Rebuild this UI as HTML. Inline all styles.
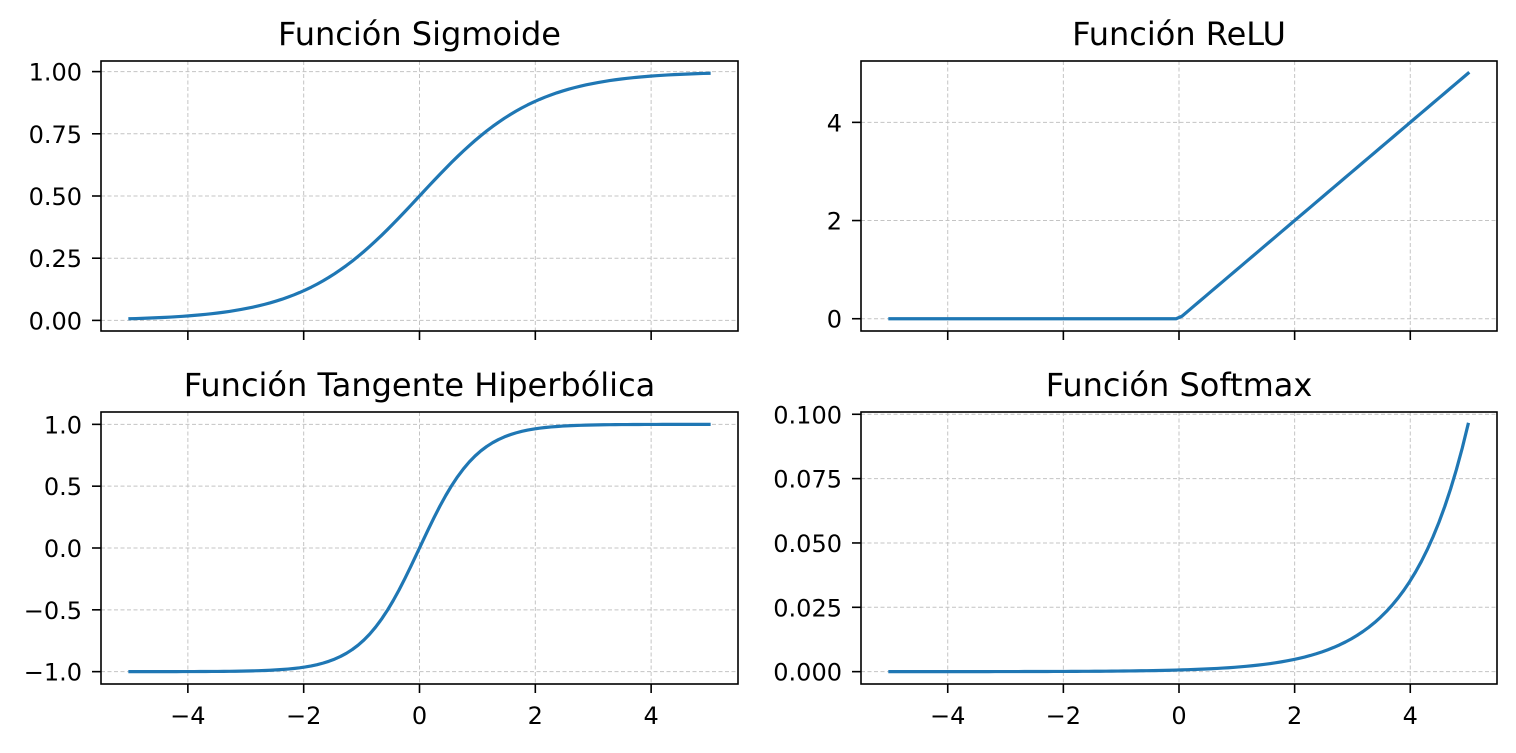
<!DOCTYPE html>
<html><head><meta charset="utf-8">
<style>
html,body{margin:0;padding:0;background:#fff;}
svg text{font-family:"DejaVu Sans","Liberation Sans",sans-serif;fill:#000;}
</style></head>
<body>
<svg id="fig" width="1516" height="748" xmlns="http://www.w3.org/2000/svg"></svg>
<script>
const N = 100;
const xs = [];
for (let i = 0; i < N; i++) xs.push(-5 + 10 * i / (N - 1));
const sigmoidVals = xs.map(x => 1 / (1 + Math.exp(-x)));
const reluVals = xs.map(x => Math.max(0, x));
const tanhVals = xs.map(x => Math.tanh(x));
const expSum = xs.reduce((s, x) => s + Math.exp(x), 0);
const softmaxVals = xs.map(x => Math.exp(x) / expSum);

const xTicks = [-4, -2, 0, 2, 4];
const sigTicks = [0, 0.25, 0.5, 0.75, 1.0];
const sigLabels = ["0.00", "0.25", "0.50", "0.75", "1.00"];
const reluTicks = [0, 2, 4];
const reluLabels = ["0", "2", "4"];
const tanhTicks = [-1, -0.5, 0, 0.5, 1];
const tanhLabels = ["\u22121.0", "\u22120.5", "0.0", "0.5", "1.0"];
const smTicks = [0, 0.025, 0.05, 0.075, 0.1];
const smLabels = ["0.000", "0.025", "0.050", "0.075", "0.100"];

const NS = "http://www.w3.org/2000/svg";
const svg = document.getElementById('fig');
function mk(tag, attrs, parent) {
  const e = document.createElementNS(NS, tag);
  for (const k in attrs) e.setAttribute(k, attrs[k]);
  (parent || svg).appendChild(e);
  return e;
}

function panel(name, title, box, ys, ymin, ymax, yTicks, yLabels, showX) {
  const g = mk('g', {});
  
  
  const [L, T, R, B] = box;
  const xmin = -5.5, xmax = 5.5;
  const sx = v => L + (v - xmin) / (xmax - xmin) * (R - L);
  const sy = v => B - (v - ymin) / (ymax - ymin) * (B - T);
  xTicks.forEach(t => {
    const l = mk('line', {x1: sx(t), x2: sx(t), y1: T, y2: B, stroke: '#c4c4c4', 'stroke-width': 1, 'stroke-dasharray': '4,2.5'}, g);
    
    
  });
  yTicks.forEach(t => {
    const l = mk('line', {x1: L, x2: R, y1: sy(t), y2: sy(t), stroke: '#c4c4c4', 'stroke-width': 1, 'stroke-dasharray': '4,2.5'}, g);
    
    
  });
  const d = xs.map((x, i) => (i ? 'L' : 'M') + sx(x).toFixed(2) + ',' + sy(ys[i]).toFixed(2)).join('');
  const p = mk('path', {d: d, fill: 'none', stroke: '#1f77b4', 'stroke-width': 3.2, 'stroke-linejoin': 'round', 'stroke-linecap': 'square'}, g);
  
  
  const fr = mk('rect', {x: L, y: T, width: R - L, height: B - T, fill: 'none', stroke: '#000', 'stroke-width': 1.6}, g);
  
  
  xTicks.forEach(t => {
    const l = mk('line', {x1: sx(t), x2: sx(t), y1: B, y2: B + 9, stroke: '#000', 'stroke-width': 1.6}, g);
    
    
    if (showX) {
      const tx = mk('text', {x: sx(t), y: B + 40, 'font-size': 24, 'text-anchor': 'middle'}, g);
      tx.textContent = t < 0 ? '\u2212' + Math.abs(t) : String(t);
      
      
    }
  });
  yTicks.forEach((t, i) => {
    const l = mk('line', {x1: L - 9, x2: L, y1: sy(t), y2: sy(t), stroke: '#000', 'stroke-width': 1.6}, g);
    
    
    const tx = mk('text', {x: L - 19, y: sy(t) + 9, 'font-size': 24, 'text-anchor': 'end'}, g);
    tx.textContent = yLabels[i];
    
    
  });
  const tt = mk('text', {x: (L + R) / 2, y: T - 16, 'font-size': 32, 'text-anchor': 'middle'}, g);
  tt.textContent = title;
  
  
}

const sigMargin = (sigmoidVals[N-1] - sigmoidVals[0]) * 0.05;
panel('sigmoid', 'Función Sigmoide', [101, 61, 738, 331], sigmoidVals,
  sigmoidVals[0] - sigMargin, sigmoidVals[N-1] + sigMargin, sigTicks, sigLabels, false);
panel('relu', 'Función ReLU', [861, 61, 1497, 331], reluVals, -0.25, 5.25, reluTicks, reluLabels, false);
const tMargin = (tanhVals[N-1] - tanhVals[0]) * 0.05;
panel('tanh', 'Función Tangente Hiperbólica', [101, 412, 738, 684], tanhVals,
  tanhVals[0] - tMargin, tanhVals[N-1] + tMargin, tanhTicks, tanhLabels, true);
const smMax = Math.max(...softmaxVals), smMin = Math.min(...softmaxVals);
const smMargin = (smMax - smMin) * 0.05;
panel('softmax', 'Función Softmax', [861, 412, 1497, 684], softmaxVals,
  smMin - smMargin, smMax + smMargin, smTicks, smLabels, true);
</script>
</body></html>
